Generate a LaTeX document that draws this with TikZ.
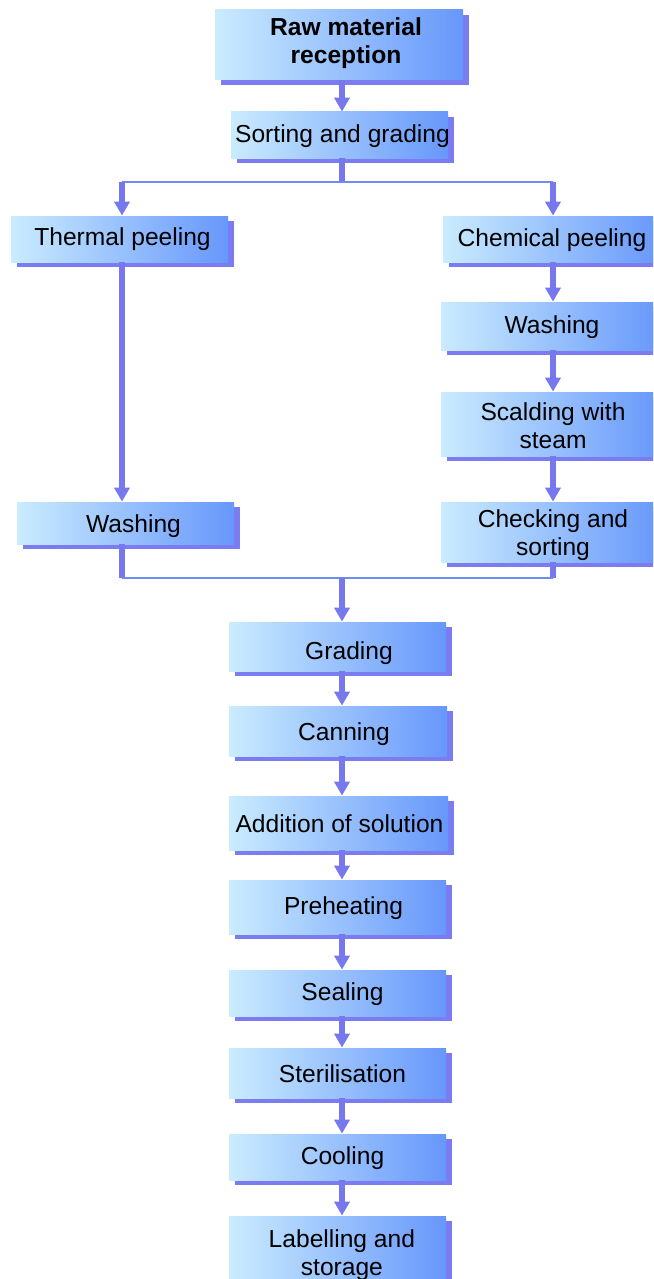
\documentclass[tikz,border=0pt]{standalone}
\usepackage{fontspec}
\setmainfont{Liberation Sans}
\usetikzlibrary{arrows.meta,shadows}
\definecolor{boxleft}{HTML}{CAECFE}
\definecolor{boxmid}{HTML}{A6C9FB}
\definecolor{boxright}{HTML}{6797FB}
\definecolor{shadowc}{HTML}{7B7BF2}
\definecolor{arrowc}{HTML}{7777EE}
\definecolor{busc}{HTML}{6F8CF0}
\begin{document}
\begin{tikzpicture}[x=0.5pt,y=-0.5pt,
  stagetext/.style={inner sep=0pt, align=center,
    font=\fontsize{12.3}{14}\selectfont},
  % #1 text, #2 horizontal text offset, #3 vertical text offset
  stagebox/.style n args={3}{rectangle, inner sep=0pt,
    left color=boxleft, middle color=boxmid, right color=boxright, shading angle=90,
    drop shadow={shadow xshift=3pt, shadow yshift=-2.4pt, fill=shadowc, opacity=1},
    label={[stagetext, xshift=#2, yshift=#3]center:{#1}}},
  flow/.style={draw=arrowc, line width=2.6pt, -{Triangle[width=7.5pt,length=7pt]}},
  trunk/.style={draw=arrowc, line width=2.6pt},
  bus/.style={draw=busc, line width=1pt}]
\useasboundingbox (0,0) rectangle (653,1279);
\clip (0,0) rectangle (653,1279);

% main column and branches
\node[stagebox={\bfseries Raw material\\\bfseries reception}{3.5pt}{0.7pt}, minimum width=124pt, minimum height=35pt] (raw) at (339,45) {};
\node[stagebox={Sorting and grading}{1.5pt}{-0.5pt}, minimum width=108.5pt, minimum height=23pt] (sort) at (339.5,135) {};

\node[stagebox={Thermal peeling}{1.5pt}{0pt}, minimum width=108.5pt, minimum height=23pt] (therm) at (119.5,239) {};
\node[stagebox={Washing}{4pt}{-1.5pt}, minimum width=108.5pt, minimum height=21pt] (washL) at (125.5,523) {};

\node[stagebox={Chemical peeling}{0pt}{-0.5pt}, minimum width=109pt, minimum height=23pt] (chem) at (552,239) {};
\node[stagebox={Washing}{0.5pt}{-0.5pt}, minimum width=110pt, minimum height=24pt] (washR) at (551,326) {};
\node[stagebox={Scalding with\\steam}{1pt}{-0.7pt}, minimum width=110pt, minimum height=32pt] (scald) at (551,424) {};
\node[stagebox={Checking and\\sorting}{1pt}{-1.5pt}, minimum width=110pt, minimum height=30pt] (check) at (551,532) {};

\node[stagebox={Grading}{5.75pt}{-3.2pt}, minimum width=108.5pt, minimum height=24.5pt] (grad) at (337.5,646.5) {};
\node[stagebox={Canning}{3pt}{-1.5pt}, minimum width=109pt, minimum height=25pt] (can) at (338,731) {};
\node[stagebox={Addition of solution}{0.5pt}{-0.5pt}, minimum width=109.5pt, minimum height=27pt] (add) at (338.5,823) {};
\node[stagebox={Preheating}{3pt}{-0.5pt}, minimum width=108.5pt, minimum height=27pt] (preheat) at (337.5,907) {};
\node[stagebox={Sealing}{2.5pt}{-0.5pt}, minimum width=108.5pt, minimum height=23pt] (seal) at (337.5,993) {};
\node[stagebox={Sterilisation}{2.5pt}{-0.5pt}, minimum width=108.5pt, minimum height=25pt] (steril) at (337.5,1073) {};
\node[stagebox={Cooling}{2.5pt}{-0.5pt}, minimum width=108.5pt, minimum height=23pt] (cool) at (337.5,1157) {};
\node[stagebox={Labelling and\\storage}{2.2pt}{-3pt}, minimum width=108.5pt, minimum height=33pt] (label) at (337.5,1249) {};

% junction points
\coordinate (splitmid) at (342,182);
\coordinate (splitL) at (122,182);
\coordinate (splitR) at (553,182);
\coordinate (joinmid) at (342,578);
\coordinate (joinL) at (122,578);
\coordinate (joinR) at (553,578);

\draw[flow] (raw.south -| splitmid) -- (sort.north -| splitmid);
\draw[trunk] (sort.south -| splitmid) -- (splitmid);
\draw[bus] (splitL) -- (splitR);
\draw[flow] (splitL) -- (therm.north -| splitL);
\draw[flow] (splitR) -- (chem.north -| splitR);

\draw[flow] (therm.south -| splitL) -- (washL.north -| splitL);
\draw[flow] (chem.south -| splitR) -- (washR.north -| splitR);
\draw[flow] (washR.south -| splitR) -- (scald.north -| splitR);
\draw[flow] (scald.south -| splitR) -- (check.north -| splitR);

\draw[trunk] (washL.south -| joinL) -- (joinL);
\draw[trunk] (check.south -| joinR) -- (joinR);
\draw[bus] (joinL) -- (joinR);
\draw[flow] (joinmid) -- (grad.north -| joinmid);

\draw[flow] (grad.south -| joinmid) -- (can.north -| joinmid);
\draw[flow] (can.south -| joinmid) -- (add.north -| joinmid);
\draw[flow] (add.south -| joinmid) -- (preheat.north -| joinmid);
\draw[flow] (preheat.south -| joinmid) -- (seal.north -| joinmid);
\draw[flow] (seal.south -| joinmid) -- (steril.north -| joinmid);
\draw[flow] (steril.south -| joinmid) -- (cool.north -| joinmid);
\draw[flow] (cool.south -| joinmid) -- (label.north -| joinmid);
\end{tikzpicture}
\end{document}
